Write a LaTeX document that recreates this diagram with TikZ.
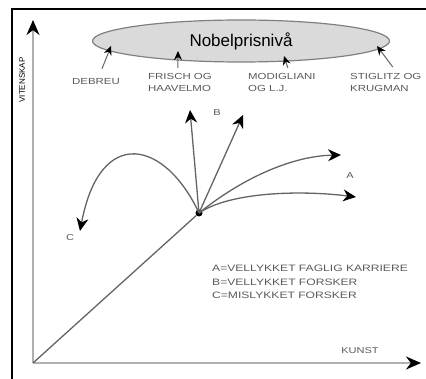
\documentclass[tikz,border=0pt]{standalone}
\usepackage{fontspec}
\setmainfont{Liberation Sans}
\newfontfamily\widefont[FakeStretch=1.3]{Liberation Sans}
\usetikzlibrary{arrows.meta,shapes.geometric,positioning}
\definecolor{axisgray}{RGB}{175,175,175}
\definecolor{linegray}{RGB}{100,100,100}
\definecolor{prizefill}{RGB}{218,218,218}
\definecolor{textgray}{RGB}{90,90,90}

\begin{document}
\begin{tikzpicture}[
    x=1pt, y=-1pt,
    axis/.style={draw=axisgray, line width=2pt, -{Stealth[length=15pt,width=13pt,color=black]}},
    arrow/.style={draw=linegray, line width=1.3pt, -{Stealth[length=13pt,width=12pt,color=black]}},
    pointer/.style={draw=linegray, line width=1pt, -{Stealth[length=9pt,width=8pt,color=black]}},
    prize/.style={ellipse, draw=gray, fill=prizefill, line width=1.2pt, minimum width=297pt, minimum height=42pt, inner sep=0pt, font=\fontsize{17}{20}\selectfont},
    winner/.style={font=\widefont\fontsize{8.8}{12}\selectfont, text=textgray, align=left, inner sep=0pt, anchor=north west},
    tag/.style={font=\widefont\fontsize{8.5}{9}\selectfont, text=textgray, inner sep=0pt},
    dot/.style={circle, fill=black, minimum size=7pt, inner sep=0pt}
]
    \useasboundingbox (0,0) rectangle (426,379);

    % Frame
    \draw[line width=2pt] (12,379) |- (426,9);

    % Axes
    \coordinate (origin) at (33,363);
    \coordinate (ytop) at (33,20);
    \coordinate (xend) at (421,363);
    \draw[axis] (origin) -- (ytop);
    \draw[axis] (origin) -- (xend);
    \node[rotate=90, font=\fontsize{8}{9}\selectfont, inner sep=0pt] (vitenskap) at (22,80) {VITENSKAP};
    \node[tag] (kunst) at (360,351) {KUNST};

    % Nobel level
    \node[prize] (nobel) at (241,41) {Nobelprisnivå};

    % Laureates
    \node[winner, anchor=west] (debreu) at (72,82) {DEBREU};
    \node[winner] (frisch) at (148,73) {FRISCH OG\\HAAVELMO};
    \node[winner] (modigliani) at (248,73) {MODIGLIANI\\OG L.J.};
    \node[winner] (stiglitz) at (350,73) {STIGLITZ OG\\KRUGMAN};

    \coordinate (tipdebreu) at (111,46);
    \coordinate (tipfrisch) at (178,51);
    \coordinate (tipmodigliani) at (284,56);
    \coordinate (tipstiglitz) at (377,46);
    \draw[pointer] ([xshift=6pt,yshift=10pt]debreu.north) -- (tipdebreu);
    \draw[pointer] ([xshift=-2pt,yshift=5pt]frisch.north) -- (tipfrisch);
    \draw[pointer] ([xshift=6pt,yshift=5pt]modigliani.north) -- (tipmodigliani);
    \draw[pointer] ([xshift=7pt,yshift=6pt]stiglitz.north) -- (tipstiglitz);

    % Career paths
    \node[dot] (hub) at (199,213) {};
    \draw[draw=linegray, line width=1.3pt] (origin) -- (hub);

    \coordinate (btipleft) at (190,110);
    \coordinate (btipright) at (243,115);
    \coordinate (atipupper) at (341,155);
    \coordinate (atiplower) at (356,197);
    \coordinate (ctip) at (80,231);
    \draw[arrow] (hub.center) -- (btipleft);
    \draw[arrow] (hub.center) -- (btipright);
    \draw[arrow] (hub.center) .. controls (240,180) and (290,156) .. (atipupper);
    \draw[arrow] (hub.center) .. controls (230,192) and (300,190) .. (atiplower);
    \draw[arrow] (hub.center) .. controls (165,140) and (100,125) .. (ctip);

    \node[tag] (labela) at (350,176) {A};
    \node[tag] (labelb) at (217,113) {B};
    \node[tag] (labelc) at (70,238) {C};

    % Legend
    \node[winner, font=\widefont\fontsize{9.3}{13.5}\selectfont] (legend) at (212,265) {A=VELLYKKET FAGLIG KARRIERE\\B=VELLYKKET FORSKER\\C=MISLYKKET FORSKER};
\end{tikzpicture}
\end{document}
